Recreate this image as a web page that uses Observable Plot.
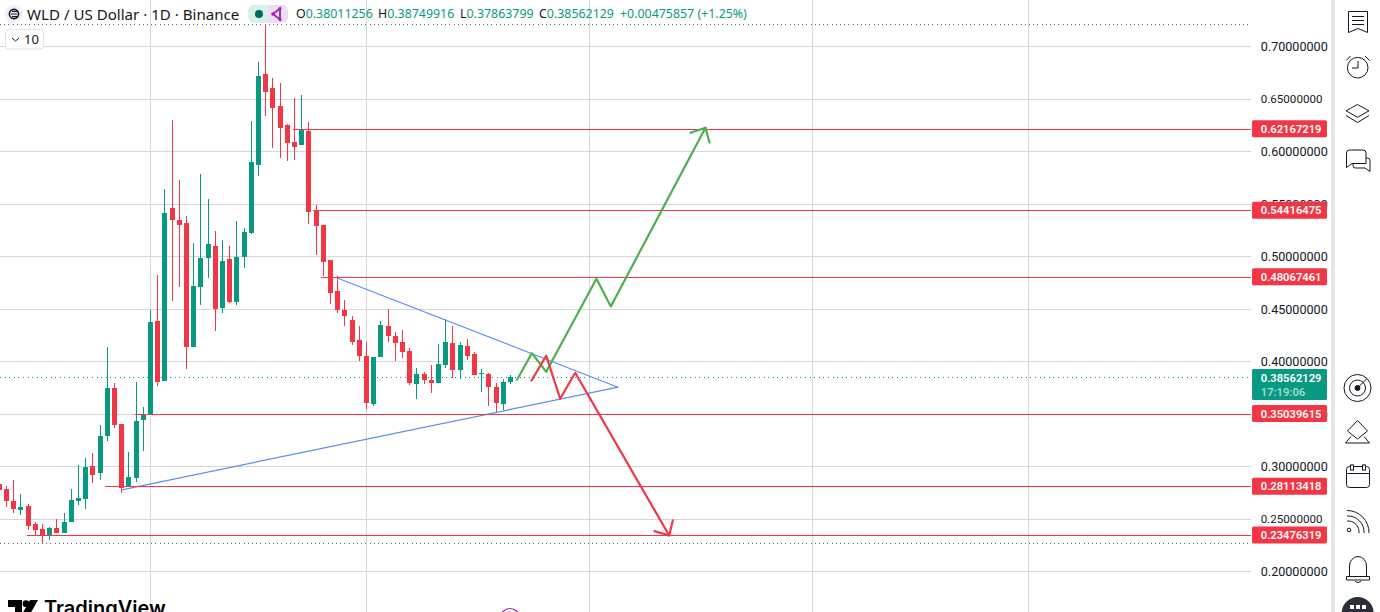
<!DOCTYPE html>
<html>
<head>
<meta charset="utf-8">
<script src="https://cdn.jsdelivr.net/npm/d3@7"></script>
<script src="https://cdn.jsdelivr.net/npm/@observablehq/plot@0.6"></script>
<style>
html,body{margin:0;padding:0;background:#fff;overflow:hidden}
#wrap{position:relative;width:1380px;height:612px;overflow:hidden}
#chart svg{display:block}
#over{position:absolute;left:0;top:0}
.h{position:absolute;white-space:nowrap;font-family:"Noto Sans",sans-serif;color:#131722}
.g{color:#089981}
</style>
</head>
<body>
<div id="wrap">
<div id="chart"></div>
<svg id="over" width="1380" height="612" fill="none" stroke="#131722" stroke-width="1">
  <rect x="1331" y="0" width="4" height="612" fill="#e6e6e6" stroke="none"/>
  <!-- header badge -->
  <circle cx="14" cy="14" r="9" fill="#eef0f8" stroke="none"/>
  <circle cx="14" cy="14" r="4.6" stroke="#131722" stroke-width="1.6"/>
  <path d="M11 14h6M12 11.5h6M12 16.5h6" stroke="#131722" stroke-width="1"/>
  <path d="M254 5h14v18h-14a6 6 0 0 1-6-6v-6a6 6 0 0 1 6-6z" fill="#d8f0ec" stroke="none"/>
  <path d="M268 5h14a6 6 0 0 1 6 6v6a6 6 0 0 1-6 6h-14z" fill="#eddcf3" stroke="none"/>
  <circle cx="259" cy="14" r="4" fill="#056656" stroke="none"/>
  <path d="M280 8.5l-7 5.5l7 5.5z" stroke="#9c27b0" stroke-width="1.9"/>
  <circle cx="280" cy="8.5" r="1.6" fill="#9c27b0" stroke="none"/><circle cx="273" cy="14" r="1.8" fill="#9c27b0" stroke="none"/><circle cx="280" cy="19.5" r="1.6" fill="#9c27b0" stroke="none"/>
  <!-- collapse box -->
  <rect x="5.5" y="29.5" width="38" height="19.5" rx="3.5" fill="#fff" stroke="#e0e3eb"/>
  <path d="M12 38l3.5 3l3.5-3" stroke="#131722"/>
  <!-- logo -->
  <path d="M8 600h14v16h-7v-9h-7z" fill="#000" stroke="none"/>
  <circle cx="26" cy="603.7" r="3.4" fill="#000" stroke="none"/>
  <path d="M30 600h8l-9 16h-8z" fill="#000" stroke="none"/>
  <text x="44" y="615" font-family="Inter,sans-serif" font-weight="600" font-size="20" fill="#000" stroke="none">TradingView</text>
  <circle cx="510" cy="618" r="9.5" stroke="#9c27b0" stroke-width="1.2"/>
  <path d="M510 611v6" stroke="#9c27b0"/>
  <!-- toolbar icons -->
  <path d="M1348.5 11.5h19v21l-9.5-4l-9.5 4z M1352 16.5h12M1352 20.5h12M1352 24.5h12"/>
  <circle cx="1357.7" cy="67.7" r="10.3"/><path d="M1346 60.5l4.5-4.5M1369.5 60.5l-4.5-4.5M1358 61v7h-6"/>
  <path d="M1357.5 104.5l11.5 6.3l-11.5 6.5l-11.5-6.5z M1346 115.5l11.5 7l11.5-7"/>
  <path d="M1346.500 153a3 3 0 0 1 3-3h13.500a3 3 0 0 1 3 3v10.500h-14l-5.500 4z M1366 158h1.500a2.500 2.500 0 0 1 2.500 2.500v11l-5-3.500h-9.500a2.500 2.500 0 0 1-2.500-2.500v-2"/>
  <circle cx="1357.500" cy="388" r="13.500"/><circle cx="1357.500" cy="388" r="8"/><circle cx="1357.500" cy="388" r="2.500" fill="#131722"/><path d="M1357.500 388l9-9"/>
  <path d="M1357.500 420.500l10 10.500l-10 8l-10-8z M1351 436.500l-5.500 6.500h24l-5.500-6.500"/>
  <rect x="1346.500" y="466.500" width="23" height="21" rx="3"/><path d="M1346.500 473.500h23M1352 464.500v5M1364 464.500v5"/><rect x="1350.500" y="465" width="3" height="5" fill="#fff"/><rect x="1362.500" y="465" width="3" height="5" fill="#fff"/>
  <circle cx="1349" cy="530" r="1.800"/><path d="M1347 521a11 11 0 0 1 12 12M1347 516a16 16 0 0 1 17 17M1347 510.500a22 22 0 0 1 22 22.500"/>
  <path d="M1349.500 576v-10a8.500 9.500 0 0 1 17 0v10M1346.500 576.500h23v3.500h-23zM1355 581a3.500 3 0 0 0 6 0"/>
  <circle cx="1357.700" cy="613" r="16" fill="#2a2e39" stroke="none"/>
  <path d="M1350 605h4v4h-4zM1356 605h4v4h-4zM1362 605h4v4h-4z" fill="#fff" stroke="none"/>
</svg>
<div class="h" style="left:27px;top:4px;font-size:15.1px;line-height:20px">WLD / US Dollar · 1D · Binance</div>
<div class="h" style="left:296px;top:5px;font-size:12.4px;line-height:18px">O<span class="g">0.38011256</span></div>
<div class="h" style="left:378px;top:5px;font-size:12.4px;line-height:18px">H<span class="g">0.38749916</span></div>
<div class="h" style="left:460px;top:5px;font-size:12.4px;line-height:18px">L<span class="g">0.37863799</span></div>
<div class="h" style="left:539px;top:5px;font-size:12.4px;line-height:18px">C<span class="g">0.38562129</span></div>
<div class="h g" style="left:620px;top:5px;font-size:12.4px;line-height:18px">+0.00475857 (+1.25%)</div>
<div class="h" style="left:24px;top:30px;font-size:13px;line-height:18px">10</div>
</div>
<script>
const firstIndex = -21;
const opens = [.2833,.2786,.2672,.2586,.2624,.2453,.2405,.2348,.2414,.2367,.2472,.2672,.2691,.3005,.2938,.3291,.3748,.3405,.2805,.2891,.3443,
  .3491,.4386,.3814,.5462,.5348,.5319,.4138,.4710,.4986,.5100,.4510,.4976,.4567,.4995,.5224,.5872,.6738,.6605,.6433,.6253,.6091,.6062,.6195,.5443,.5300,
  .4967,.4672,.4491,.4395,.4205,.4053,.3595,.4043,.4338,.4243,.4186,.4100,.3786,.3881,.3824,.3795,.3967,.4176,.3919,.4148,.4072,.3881,.3881,.3757,.3595,.38011];
const closes = [.2776,.2672,.2595,.2614,.2433,.2395,.2348,.2414,.2367,.2472,.2681,.2700,.2995,.2919,.3291,.3748,.3395,.2795,.2900,.3433,.3500,
  .4376,.3805,.5414,.5348,.5300,.4138,.4719,.4986,.5119,.4500,.4957,.4567,.4995,.5233,.5900,.6719,.6567,.6414,.6224,.6081,.6043,.6205,.5424,.5291,.4948,
  .4653,.4491,.4433,.4186,.4053,.3605,.4043,.4348,.4243,.4176,.4091,.3795,.3881,.3824,.3795,.3976,.4186,.3919,.4157,.4053,.3872,.3891,.3757,.3605,.3805,.38562];
const highs = [.2862,.2814,.2872,.2738,.2643,.2472,.2453,.2424,.2500,.2557,.2786,.3014,.3081,.3129,.3395,.4138,.3795,.3405,.3138,.3805,.3567,
  .4491,.4824,.5643,.6300,.5729,.5386,.5129,.5786,.5548,.5243,.5157,.5100,.5338,.5272,.6291,.6853,.7214,.6700,.6653,.6262,.6510,.6538,.6281,.5491,.5300,
  .4967,.4814,.4586,.4433,.4338,.4186,.4043,.4386,.4500,.4281,.4300,.4129,.3938,.3900,.3967,.4167,.4405,.4338,.4186,.4214,.4091,.3929,.3891,.3795,.3833,.38750];
const lows = [.2757,.2614,.2557,.2538,.2395,.2348,.2272,.2300,.2367,.2367,.2472,.2633,.2595,.2843,.2872,.3243,.3367,.2748,.2805,.2853,.3148,
  .3491,.3767,.3814,.4576,.4710,.3929,.4138,.4538,.4795,.4291,.4462,.4557,.4538,.4891,.5214,.5767,.6338,.6033,.5938,.5910,.5919,.6062,.5310,.5014,.4814,
  .4548,.4462,.4338,.4157,.4005,.3548,.3576,.4043,.4186,.4005,.4033,.3776,.3643,.3786,.3700,.3795,.3938,.3843,.3833,.4014,.3872,.3710,.3576,.3519,.3538,.37864];

const priceTicks = [.20,.25,.30,.35,.40,.45,.50,.55,.60,.65,.70];
const narrowTicks = [.25,.65];
const timeGrid = [0,30,61,92,122];
const sessionExtremes = [.7214,.2272];
const lastPrice = .38562129;
const countdown = "17:19:06";
const levelPrices = [.62167219,.54416475,.48067461,.35039615,.28113418,.23476319];
const levelStarts = [19.86,22.64,23.75,-2.08,-6.25,-17.08];

const triangleX = [25.93,64.93,-3.98];
const trianglePrice = [.4800,.3760,.2783];
const bullX = [50.93,52.96,54.96,61.94,63.93,77.08];
const bullPrice = [.3833,.4084,.3907,.4793,.4529,.6231];
const bullHeadX = [75,77.08,77.64];
const bullHeadPrice = [.6183,.6231,.6091];
const bearX = [52.92,54.96,56.90,58.99,72.04];
const bearPrice = [.3824,.4059,.3650,.3897,.2348];
const bearHeadX = [70,72.04,72.54];
const bearHeadPrice = [.2389,.2348,.2491];

const UP = "#089981", DOWN = "#f23645", GRID = "#d6d6d6", BLUE = "#5b8ff0", ARROW = "#4caf50", INK = "#131722";
const xEnd = 152.9, labelLeft = 153.06, labelRight = 163.47, labelText = 154.2;
const crisp = {shapeRendering:"crispEdges"};

const candles = opens.map((o,k)=>({i:firstIndex+k,o,c:closes[k],h:highs[k],l:lows[k]}));
const pts = (xs,ys)=>xs.map((x,k)=>({x,y:ys[k]}));
const color = d=>d.c>=d.o?UP:DOWN;

const plot = Plot.plot({
  width:1380,height:612,margin:0,
  style:{background:"#fff",fontFamily:"Roboto,sans-serif"},
  x:{domain:[-20.8333,170.8333],range:[0,1380],axis:null},
  y:{domain:[.16143,.7443],range:[612,0],axis:null},
  marks:[
    Plot.ruleY(priceTicks,{y:d=>d,x1:-20.8333,x2:xEnd,stroke:GRID,strokeWidth:1,dy:-0.25,...crisp}),
    Plot.ruleX(timeGrid,{x:d=>d,stroke:GRID,strokeWidth:1,...crisp}),
    Plot.ruleY(sessionExtremes,{y:d=>d,x1:-20.8333,x2:xEnd,stroke:"#666",strokeWidth:1,strokeDasharray:"1 3.2",...crisp}),
    Plot.ruleY([lastPrice],{y:d=>d,x1:-20.8333,x2:xEnd,stroke:UP,strokeWidth:1,strokeDasharray:"1 3.6",...crisp}),
    Plot.ruleX(candles,{x:"i",y1:"l",y2:"h",stroke:color,strokeWidth:1,...crisp}),
    Plot.ruleX(candles,{x:"i",y1:"o",y2:"c",stroke:color,strokeWidth:5,...crisp}),
    Plot.line(pts(triangleX,trianglePrice),{x:"x",y:"y",stroke:BLUE,strokeWidth:1.2}),
    Plot.ruleY(levelPrices,{y:d=>d,x1:(d,k)=>levelStarts[k],x2:xEnd,stroke:DOWN,strokeWidth:1,...crisp}),
    Plot.line(pts(bullX,bullPrice),{x:"x",y:"y",stroke:ARROW,strokeWidth:2.2}),
    Plot.line(pts(bullHeadX,bullHeadPrice),{x:"x",y:"y",stroke:ARROW,strokeWidth:2.2}),
    Plot.line(pts(bearX,bearPrice),{x:"x",y:"y",stroke:DOWN,strokeWidth:2.2}),
    Plot.line(pts(bearHeadX,bearHeadPrice),{x:"x",y:"y",stroke:DOWN,strokeWidth:2.2}),
    Plot.text(priceTicks,{x:labelText,y:d=>d,text:d=>d.toFixed(8),textAnchor:"start",fill:INK,
      fontSize:d=>narrowTicks.includes(d)?11.6:12.6}),
    Plot.rect(levelPrices,{x1:labelLeft,x2:labelRight,y1:d=>d,y2:d=>d,insetTop:-8.5,insetBottom:-8.5,fill:DOWN,rx:1.5}),
    Plot.rect([lastPrice],{x1:labelLeft,x2:labelRight,y1:d=>d,y2:d=>d,insetTop:-7.5,insetBottom:-23.5,fill:UP,rx:1.5}),
    Plot.text(levelPrices,{x:labelText,y:d=>d,text:d=>d.toFixed(8),textAnchor:"start",fill:"#fff",fontWeight:600,fontSize:11.2}),
    Plot.text([lastPrice],{x:labelText,y:d=>d,dy:1,text:d=>d.toFixed(8),textAnchor:"start",fill:"#fff",fontWeight:600,fontSize:11.2}),
    Plot.text([lastPrice],{x:labelText,y:d=>d,dy:15,text:()=>countdown,textAnchor:"start",fill:"#fff",fillOpacity:.65,fontWeight:600,fontSize:11.2})
  ]
});
document.getElementById("chart").appendChild(plot);
</script>
</body>
</html>
